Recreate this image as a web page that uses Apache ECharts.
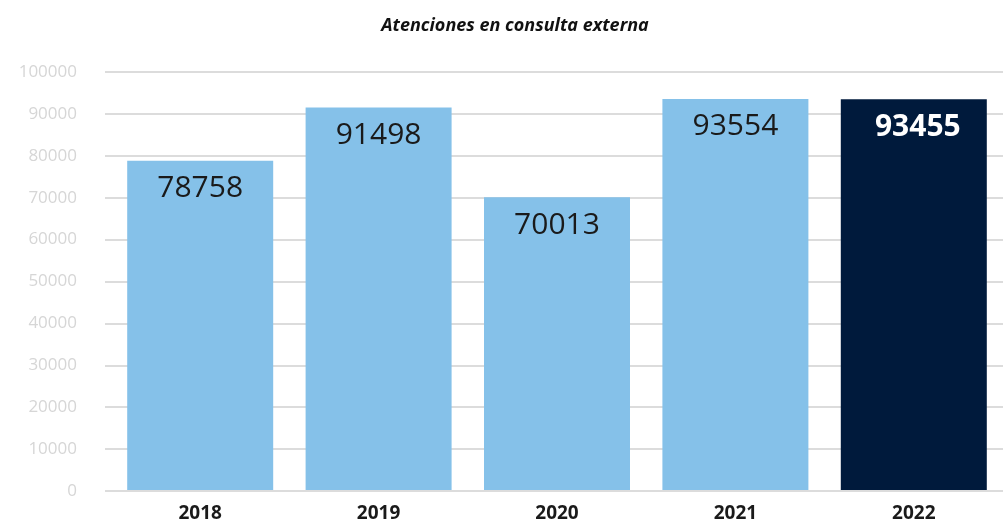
<!DOCTYPE html>
<html><head><meta charset="utf-8">
<script src="https://cdn.jsdelivr.net/npm/echarts@6/dist/echarts.min.js"></script>
<style>html,body{margin:0;padding:0;background:#fff}#c{width:1003px;height:523px}</style>
</head><body><div id="c"></div>
<script>
const categories = ['2018', '2019', '2020', '2021', '2022'];
const values = [78758, 91498, 70013, 93554, 93455];
const title = 'Atenciones en consulta externa';

const chart = echarts.init(document.getElementById('c'));
chart.setOption({
  animation: false,
  title: {
    text: title, left: 510, top: 12, textAlign: 'center',
    textStyle: { fontFamily: 'Open Sans', fontSize: 18, fontWeight: 'bold', fontStyle: 'italic', color: '#111' }
  },
  grid: [
    { left: 105, right: 0, top: 72, bottom: 32 },
    { left: 111, right: -9, top: 72, bottom: 32 }
  ],
  xAxis: [
    { type: 'value', gridIndex: 0, show: false, min: 0, max: 1 },
    {
      type: 'category', gridIndex: 1, data: categories,
      axisLine: { show: false },
      axisTick: { show: false },
      axisLabel: { fontFamily: 'Open Sans', fontSize: 19, fontWeight: 'bold', color: '#1a1a1a', margin: 14 }
    }
  ],
  yAxis: [
    {
      type: 'value', gridIndex: 0, min: 0, max: 100000, interval: 10000,
      axisLine: { show: false }, axisTick: { show: false },
      splitLine: { lineStyle: { color: '#dcdcdc', width: 2 } },
      axisLabel: { fontFamily: 'Open Sans', fontSize: 17, color: '#d6d6d6', margin: 28,
        formatter: v => String(v) }
    },
    {
      type: 'value', gridIndex: 1, min: 0, max: 100000, interval: 10000,
      show: false
    }
  ],
  series: [{
    type: 'bar', barWidth: 146, xAxisIndex: 1, yAxisIndex: 1,
    data: values.map((v, i) => ({
      value: v,
      itemStyle: { color: i === values.length - 1 ? '#001a3c' : '#85c1e9' },
      label: i === values.length - 1 ? { color: '#fff', fontWeight: 'bold', offset: [4, 0] } : {}
    })),
    label: {
      show: true, position: 'insideTop', distance: 13,
      fontFamily: 'Open Sans', fontSize: 30, color: '#1a1a1a'
    }
  }]
});
</script></body></html>
